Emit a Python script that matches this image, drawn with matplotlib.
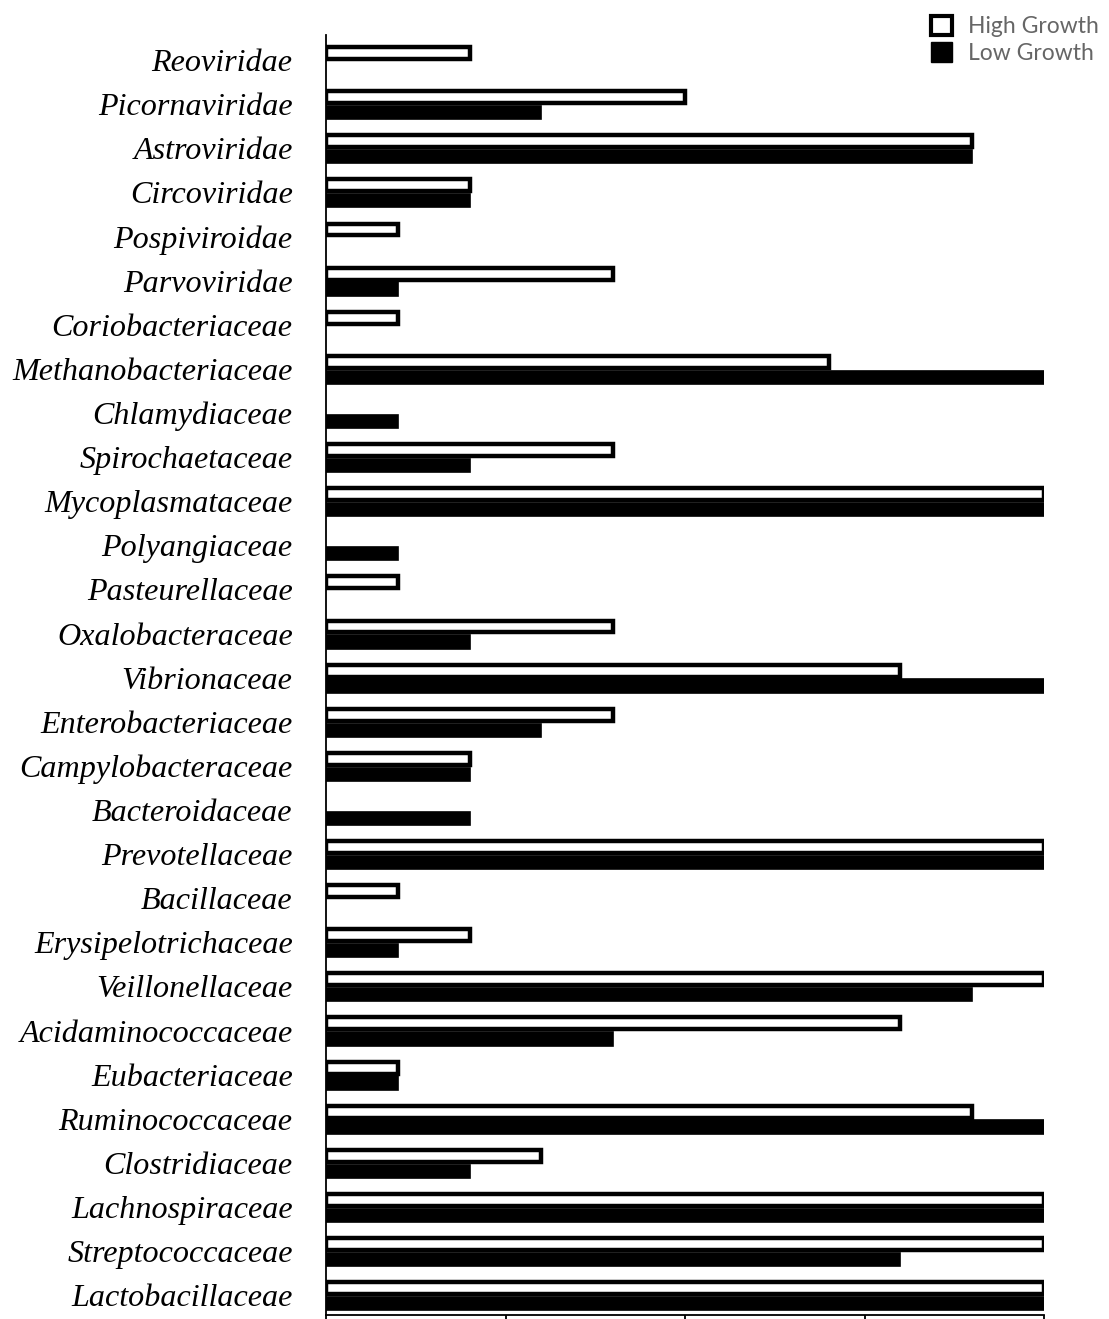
import numpy as np
import matplotlib
matplotlib.use("Agg")
import matplotlib.pyplot as plt
from matplotlib.patches import Patch

families = ["Reoviridae", "Picornaviridae", "Astroviridae", "Circoviridae",
            "Pospiviroidae", "Parvoviridae", "Coriobacteriaceae",
            "Methanobacteriaceae", "Chlamydiaceae", "Spirochaetaceae",
            "Mycoplasmataceae", "Polyangiaceae", "Pasteurellaceae",
            "Oxalobacteraceae", "Vibrionaceae", "Enterobacteriaceae",
            "Campylobacteraceae", "Bacteroidaceae", "Prevotellaceae",
            "Bacillaceae", "Erysipelotrichaceae", "Veillonellaceae",
            "Acidaminococcaceae", "Eubacteriaceae", "Ruminococcaceae",
            "Clostridiaceae", "Lachnospiraceae", "Streptococcaceae",
            "Lactobacillaceae"]

high_growth = [2, 5, 9, 2, 1, 4, 1, 7, 0, 4, 10, 0, 1, 4, 8, 4, 2, 0, 10, 1,
               2, 10, 8, 1, 9, 3, 10, 10, 10]
low_growth = [0, 3, 9, 2, 0, 1, 0, 10, 1, 2, 10, 1, 0, 2, 10, 3, 2, 2, 10, 0,
              1, 9, 4, 1, 10, 2, 10, 8, 10]

fig = plt.figure(figsize=(11.09, 13.19), dpi=100)
ax = fig.add_axes([326 / 1109, 4 / 1319, (1044 - 326) / 1109, (1315 - 35) / 1319])

y = np.arange(len(families))
hi = np.array(high_growth)
lo = np.array(low_growth)

# zero-valued bars are not drawn at all in the original
ax.barh(y[hi > 0] - 0.16, hi[hi > 0], height=0.27, color="white",
        edgecolor="black", linewidth=3.2, zorder=3)
ax.barh(y[lo > 0] + 0.19, lo[lo > 0], height=0.3, color="black",
        edgecolor="black", linewidth=1.2, zorder=2)

ax.set_xlim(0, 10)
ax.set_ylim(28.45, -0.57)
ax.set_xticks([0, 2.5, 5, 7.5, 10])
ax.set_xticklabels([])
ax.set_yticks(y)
ax.set_yticklabels(families, fontfamily="Liberation Serif", fontstyle="italic",
                   fontsize=23.1)
ax.tick_params(axis="y", length=0, pad=24)
ax.tick_params(axis="x", direction="out", length=6, width=1.3)

for s in ["top", "right"]:
    ax.spines[s].set_visible(False)
for s in ["left", "bottom"]:
    ax.spines[s].set_linewidth(1.3)

handles = [Patch(facecolor="white", edgecolor="black", linewidth=3),
           Patch(facecolor="black", edgecolor="black", linewidth=1)]
fig.legend(handles, ["High Growth", "Low Growth"], loc="upper right",
           bbox_to_anchor=(1.0, 0.996), frameon=False, handlelength=0.9,
           handleheight=0.95, handletextpad=0.7, labelspacing=0.2,
           borderaxespad=0.15, borderpad=0.3,
           prop={"family": "Lato", "size": 16.5}, labelcolor="#666666")

fig.savefig("out.png", dpi=100)
